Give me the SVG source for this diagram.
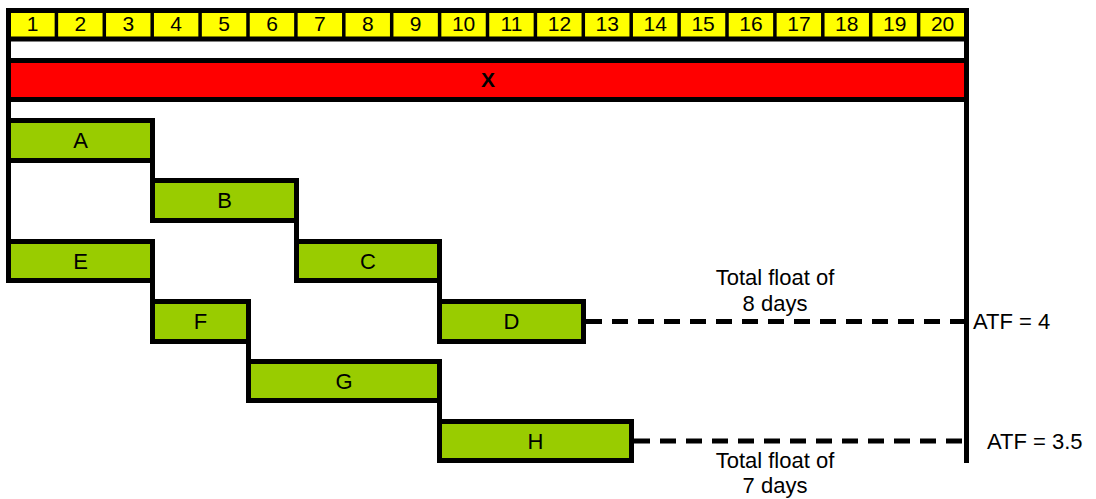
<svg xmlns="http://www.w3.org/2000/svg" width="1096" height="499" viewBox="0 0 1096 499">
<style>
.frame{stroke:#000;stroke-width:5;fill:none}
.div{stroke:#000;stroke-width:3.5}
.task{fill:#99CC00;stroke:#000;stroke-width:5}
.link{stroke:#000;stroke-width:5;fill:none}
.dash{stroke:#000;stroke-width:5;stroke-dasharray:16 10;fill:none}
.num{font-family:"Liberation Sans",Arial,sans-serif;font-size:21px;text-anchor:middle;fill:#000}
.lbl{font-family:"Liberation Sans",Arial,sans-serif;font-size:22px;text-anchor:middle;fill:#000}
.note{font-family:"Liberation Sans",Arial,sans-serif;font-size:22px;fill:#000}
</style>
<rect width="1096" height="499" fill="#fff"/>
<g id="timeline">
<rect x="8.5" y="10.5" width="958" height="28.5" fill="#FFFF00"/>
<g class="div">
<line x1="56.4" y1="12" x2="56.4" y2="37"/><line x1="104.3" y1="12" x2="104.3" y2="37"/><line x1="152.2" y1="12" x2="152.2" y2="37"/><line x1="200.1" y1="12" x2="200.1" y2="37"/><line x1="248" y1="12" x2="248" y2="37"/><line x1="295.9" y1="12" x2="295.9" y2="37"/><line x1="343.8" y1="12" x2="343.8" y2="37"/><line x1="391.7" y1="12" x2="391.7" y2="37"/><line x1="439.6" y1="12" x2="439.6" y2="37"/><line x1="487.5" y1="12" x2="487.5" y2="37"/><line x1="535.4" y1="12" x2="535.4" y2="37"/><line x1="583.3" y1="12" x2="583.3" y2="37"/><line x1="631.2" y1="12" x2="631.2" y2="37"/><line x1="679.1" y1="12" x2="679.1" y2="37"/><line x1="727" y1="12" x2="727" y2="37"/><line x1="774.9" y1="12" x2="774.9" y2="37"/><line x1="822.8" y1="12" x2="822.8" y2="37"/><line x1="870.7" y1="12" x2="870.7" y2="37"/><line x1="918.6" y1="12" x2="918.6" y2="37"/>
</g>
<line class="frame" x1="6" y1="10.5" x2="969" y2="10.5"/>
<line class="frame" x1="6" y1="39" x2="969" y2="39"/>
<g class="num">
<text x="32.5" y="31">1</text><text x="80.4" y="31">2</text><text x="128.3" y="31">3</text><text x="176.2" y="31">4</text><text x="224.1" y="31">5</text><text x="272" y="31">6</text><text x="319.9" y="31">7</text><text x="367.8" y="31">8</text><text x="415.7" y="31">9</text><text x="463.6" y="31">10</text><text x="511.5" y="31">11</text><text x="559.4" y="31">12</text><text x="607.3" y="31">13</text><text x="655.2" y="31">14</text><text x="703.1" y="31">15</text><text x="751" y="31">16</text><text x="798.9" y="31">17</text><text x="846.8" y="31">18</text><text x="894.7" y="31">19</text><text x="942.6" y="31">20</text>
</g>
</g>
<g id="X">
<rect x="8.5" y="60.5" width="958" height="39" fill="#FF0000" stroke="#000" stroke-width="5"/>
<text x="488" y="87" font-family="Liberation Sans, Arial, sans-serif" font-size="21" font-weight="bold" text-anchor="middle">X</text>
</g>
<g id="connectors">
<line class="link" x1="8.5" y1="8" x2="8.5" y2="283"/>
<line class="link" x1="966.5" y1="8" x2="966.5" y2="463"/>
<line class="link" x1="152.5" y1="160" x2="152.5" y2="181"/>
<line class="link" x1="296.5" y1="220" x2="296.5" y2="242"/>
<line class="link" x1="152.5" y1="280" x2="152.5" y2="302"/>
<line class="link" x1="439.5" y1="280" x2="439.5" y2="302"/>
<line class="link" x1="248.5" y1="341" x2="248.5" y2="362"/>
<line class="link" x1="439.5" y1="400" x2="439.5" y2="422"/>
<line class="dash" x1="586" y1="321.5" x2="964" y2="321.5"/>
<line class="dash" x1="634" y1="441" x2="964" y2="441"/>
</g>
<g id="A"><rect class="task" x="8.5" y="120.5" width="144" height="40"/><text class="lbl" x="80.5" y="148">A</text></g>
<g id="B"><rect class="task" x="152.5" y="180.5" width="144" height="40"/><text class="lbl" x="224.5" y="208">B</text></g>
<g id="E"><rect class="task" x="8.5" y="241.5" width="144" height="39"/><text class="lbl" x="80.5" y="268.5">E</text></g>
<g id="C"><rect class="task" x="296.5" y="241.5" width="143" height="39"/><text class="lbl" x="368" y="268.5">C</text></g>
<g id="F"><rect class="task" x="152.5" y="301.5" width="96" height="40"/><text class="lbl" x="200.5" y="328.5">F</text></g>
<g id="D"><rect class="task" x="439.5" y="301.5" width="144" height="40"/><text class="lbl" x="511.5" y="328.5">D</text></g>
<g id="G"><rect class="task" x="248.5" y="361.5" width="191" height="39"/><text class="lbl" x="344" y="388.5">G</text></g>
<g id="H"><rect class="task" x="439.5" y="421.5" width="192" height="39"/><text class="lbl" x="535.5" y="448.5">H</text></g>
<g id="notes">
<text class="note" x="775" y="285" text-anchor="middle">Total float of</text>
<text class="note" x="775" y="311" text-anchor="middle">8 days</text>
<text class="note" x="775" y="468" text-anchor="middle">Total float of</text>
<text class="note" x="775" y="493" text-anchor="middle">7 days</text>
<text class="note" x="973" y="329">ATF = 4</text>
<text class="note" x="987" y="449">ATF = 3.5</text>
</g>
</svg>
